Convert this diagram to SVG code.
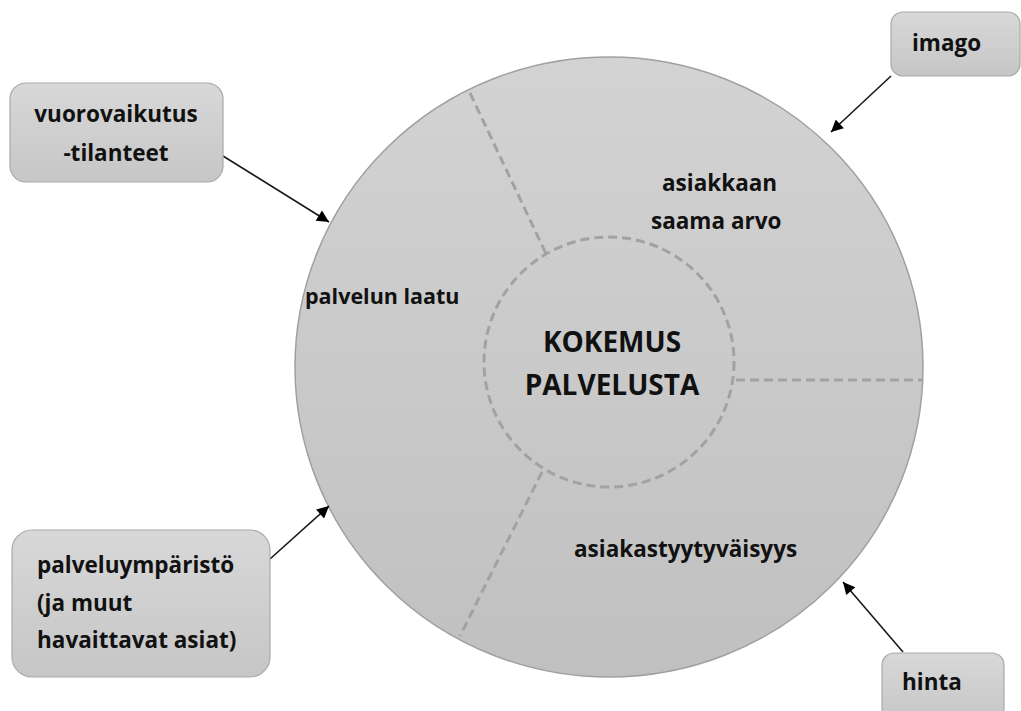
<svg xmlns="http://www.w3.org/2000/svg" width="1021" height="711" viewBox="0 0 1021 711">
<defs>
<linearGradient id="gCircle" x1="0" y1="0" x2="0" y2="1">
<stop offset="0" stop-color="#d3d3d3"/>
<stop offset="1" stop-color="#c0c0c0"/>
</linearGradient>
<linearGradient id="gBox" x1="0" y1="0" x2="0" y2="1">
<stop offset="0" stop-color="#d8d8d8"/>
<stop offset="1" stop-color="#c6c6c6"/>
</linearGradient>
<marker id="arr" viewBox="0 0 10 10" refX="10" refY="5" markerUnits="userSpaceOnUse" markerWidth="15" markerHeight="12" orient="auto">
<path d="M0,0 L10,5 L0,10 z" fill="#000"/>
</marker>
</defs>
<style>
.box{fill:url(#gBox);stroke:#a9a9a9;stroke-width:1.2}
.lbl{font-family:"Open Sans","DejaVu Sans",sans-serif;font-weight:bold;font-size:22.5px;fill:#111}
.dash{fill:none;stroke:#a2a2a2;stroke-width:3;stroke-dasharray:9 5}
.conn{stroke:#1a1a1a;stroke-width:1.6;fill:none;marker-end:url(#arr)}
</style>
<rect width="1021" height="711" fill="#fff"/>
<g id="circle">
<ellipse cx="609" cy="367" rx="314" ry="310" fill="url(#gCircle)" stroke="#a0a0a0" stroke-width="1.5"/>
<circle class="dash" cx="609" cy="362" r="125"/>
<line class="dash" x1="470" y1="93" x2="548" y2="258"/>
<line class="dash" x1="736" y1="380" x2="922" y2="380"/>
<line class="dash" x1="542" y1="472" x2="460" y2="636"/>
<text class="lbl" x="662" y="191">asiakkaan</text>
<text class="lbl" x="651" y="229">saama arvo</text>
<text class="lbl" x="305" y="304" style="font-size:21.5px">palvelun laatu</text>
<text class="lbl" x="574" y="557">asiakastyytyväisyys</text>
<text class="lbl" x="612" y="352" text-anchor="middle" style="font-size:28px">KOKEMUS</text>
<text class="lbl" x="612" y="395" text-anchor="middle" style="font-size:28px">PALVELUSTA</text>
</g>
<g id="connectors">
<line class="conn" x1="223" y1="156" x2="329" y2="222"/>
<line class="conn" x1="891" y1="76" x2="831" y2="132"/>
<line class="conn" x1="270" y1="559" x2="329" y2="506"/>
<line class="conn" x1="903" y1="652" x2="843" y2="582"/>
</g>
<g id="vuorovaikutus">
<rect class="box" x="10" y="83" width="213" height="99" rx="16"/>
<text class="lbl" x="116" y="122" text-anchor="middle">vuorovaikutus</text>
<text class="lbl" x="116" y="161" text-anchor="middle">-tilanteet</text>
</g>
<g id="imago">
<rect class="box" x="891" y="12" width="129" height="64" rx="12"/>
<text class="lbl" x="912" y="51">imago</text>
</g>
<g id="palveluymparisto">
<rect class="box" x="12" y="530" width="258" height="147" rx="20"/>
<text class="lbl" x="37" y="573">palveluympäristö</text>
<text class="lbl" x="37" y="611">(ja muut</text>
<text class="lbl" x="37" y="648">havaittavat asiat)</text>
</g>
<g id="hinta">
<rect class="box" x="882" y="653" width="122" height="70" rx="12"/>
<text class="lbl" x="902" y="690">hinta</text>
</g>
</svg>
